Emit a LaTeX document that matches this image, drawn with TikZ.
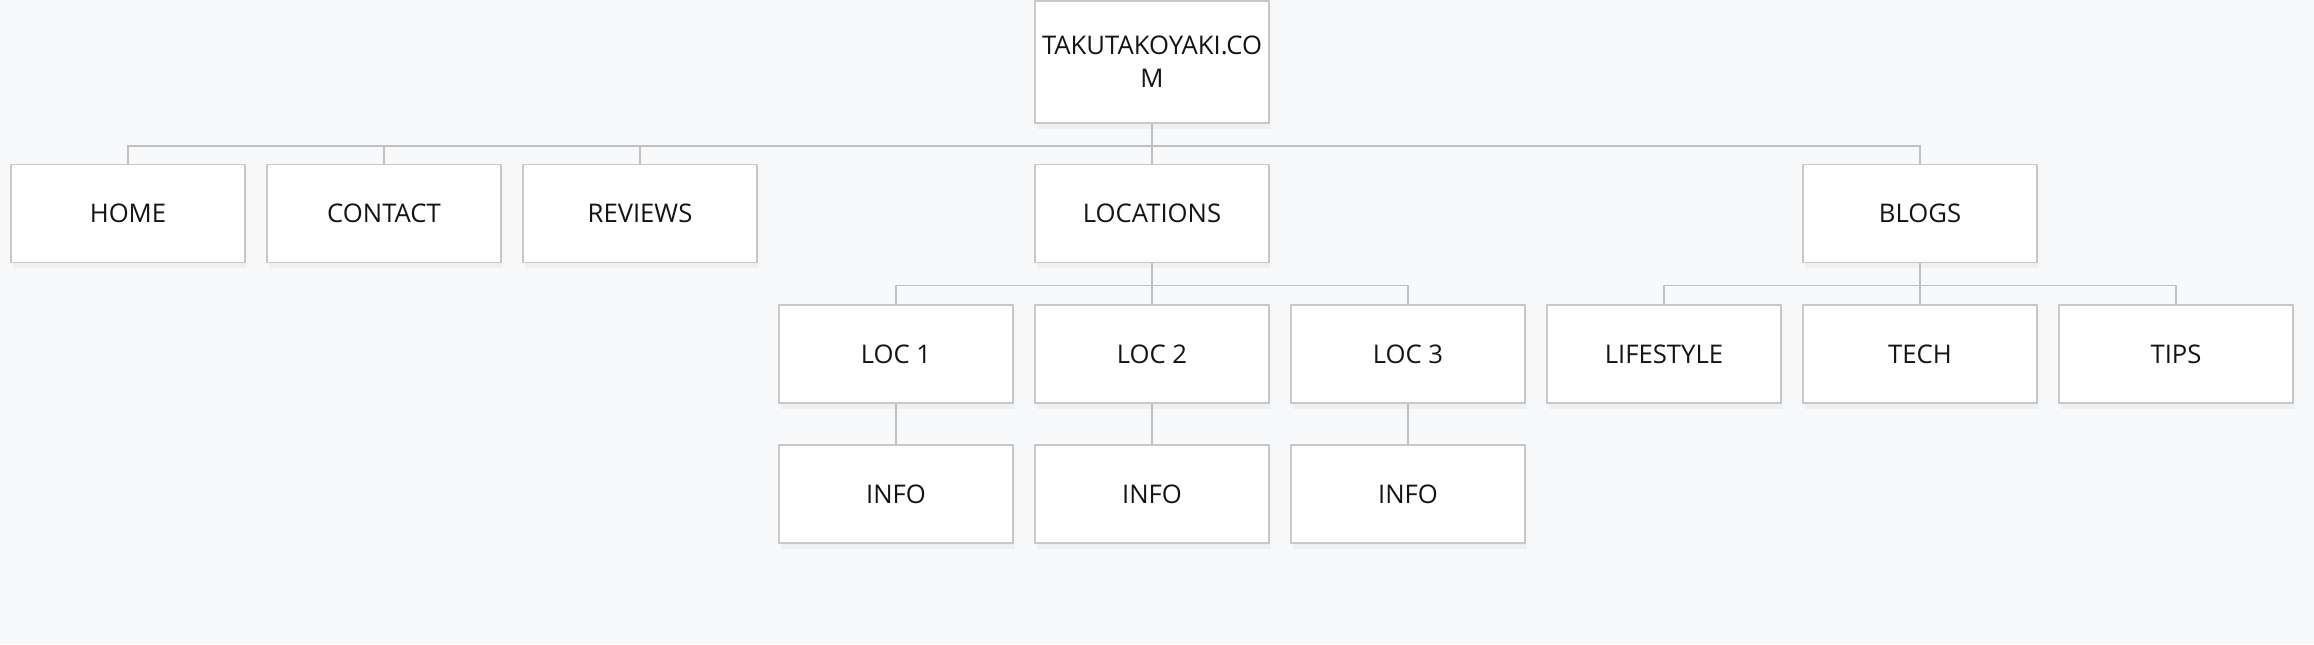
\documentclass[tikz,border=0pt]{standalone}
\usepackage{fontspec}
\setmainfont{Open Sans}
\usetikzlibrary{shapes,shadows,positioning}
\definecolor{bgcol}{RGB}{248,249,250}
\definecolor{boxline}{RGB}{200,200,200}
\definecolor{linkcol}{RGB}{192,192,192}
\definecolor{textcol}{RGB}{20,20,20}

\begin{document}
\begin{tikzpicture}[x=0.01cm,y=-0.01cm,
  page/.style={draw=boxline,line width=0.5pt,fill=white,minimum width=2.34cm,minimum height=0.98cm,
    inner sep=0pt,align=center,text=textcol,font=\fontsize{7.3}{9.4}\selectfont,
    drop shadow={opacity=0.07,shadow xshift=0.6pt,shadow yshift=-1.6pt}},
  link/.style={draw=linkcol,line width=0.45pt}]
\useasboundingbox (0,0) rectangle (2314,644);
\fill[bgcol] (0,0) rectangle (2314,644);

% Site root
\node[page,minimum height=1.22cm] (root) at (1152,62) {TAKUTAKOYAKI.CO\\M};

% Top level pages
\node[page] (home) at (128,213.5) {HOME};
\node[page] (contact) at (384,213.5) {CONTACT};
\node[page] (reviews) at (640,213.5) {REVIEWS};
\node[page] (locations) at (1152,213.5) {LOCATIONS};
\node[page] (blogs) at (1920,213.5) {BLOGS};

% Locations
\node[page] (loc1) at (896,354) {LOC 1};
\node[page] (loc2) at (1152,354) {LOC 2};
\node[page] (loc3) at (1408,354) {LOC 3};
\node[page] (info1) at (896,494) {INFO};
\node[page] (info2) at (1152,494) {INFO};
\node[page] (info3) at (1408,494) {INFO};

% Blogs
\node[page] (lifestyle) at (1664,354) {LIFESTYLE};
\node[page] (tech) at (1920,354) {TECH};
\node[page] (tips) at (2176,354) {TIPS};

% Links
\draw[link] (root.south) -- ++(0,22) -| (home.north);
\draw[link] (root.south) -- ++(0,22) -| (contact.north);
\draw[link] (root.south) -- ++(0,22) -| (reviews.north);
\draw[link] (root.south) -- (locations.north);
\draw[link] (root.south) -- ++(0,22) -| (blogs.north);

\draw[link] (locations.south) -- ++(0,22) -| (loc1.north);
\draw[link] (locations.south) -- (loc2.north);
\draw[link] (locations.south) -- ++(0,22) -| (loc3.north);
\draw[link] (loc1.south) -- (info1.north);
\draw[link] (loc2.south) -- (info2.north);
\draw[link] (loc3.south) -- (info3.north);

\draw[link] (blogs.south) -- ++(0,22) -| (lifestyle.north);
\draw[link] (blogs.south) -- (tech.north);
\draw[link] (blogs.south) -- ++(0,22) -| (tips.north);
\end{tikzpicture}
\end{document}
